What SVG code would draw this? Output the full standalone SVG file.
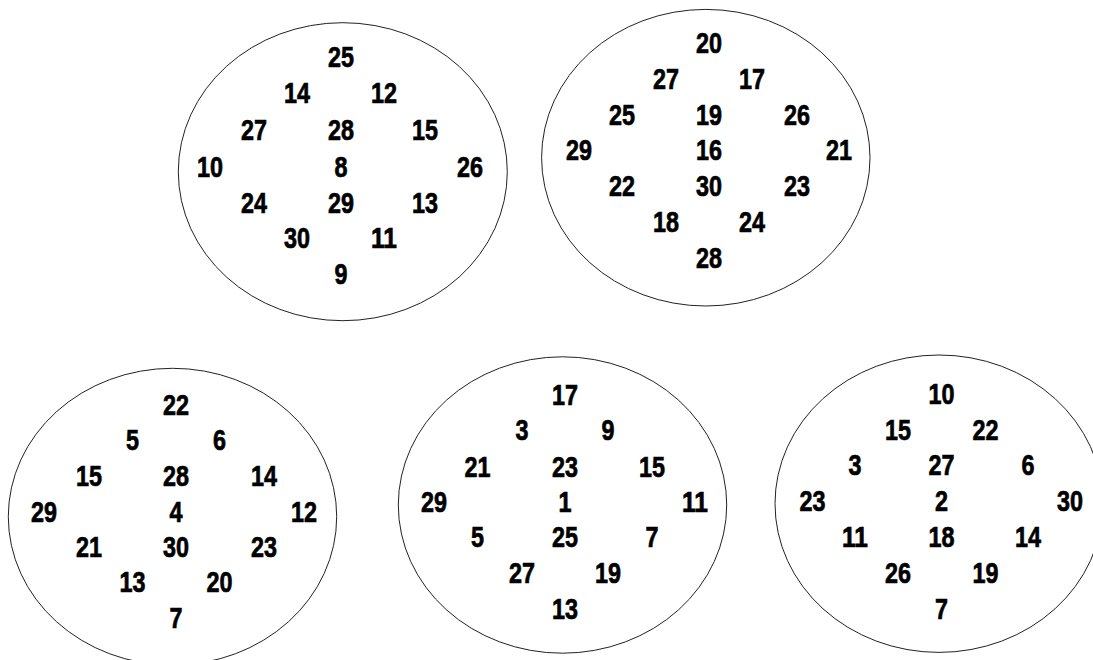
<svg xmlns="http://www.w3.org/2000/svg" width="1093" height="660" viewBox="0 0 1093 660">
<style>
.shell{fill:#fff;stroke:#222;stroke-width:1}
.pin{font-family:"Liberation Sans","Arial",sans-serif;font-weight:bold;font-size:30px;text-anchor:middle;fill:#000;stroke:#000;stroke-width:0.7}
</style>
<rect width="1093" height="660" fill="#fff"/>
<g id="connector-1">
<ellipse class="shell" cx="342.8" cy="171.7" rx="164.5" ry="149"/>
<text class="pin" x="341" y="67" textLength="26" lengthAdjust="spacingAndGlyphs">25</text>
<text class="pin" x="297" y="103" textLength="26" lengthAdjust="spacingAndGlyphs">14</text>
<text class="pin" x="384" y="103" textLength="26" lengthAdjust="spacingAndGlyphs">12</text>
<text class="pin" x="254" y="140" textLength="26" lengthAdjust="spacingAndGlyphs">27</text>
<text class="pin" x="341" y="140" textLength="26" lengthAdjust="spacingAndGlyphs">28</text>
<text class="pin" x="425" y="140" textLength="26" lengthAdjust="spacingAndGlyphs">15</text>
<text class="pin" x="210" y="177" textLength="26" lengthAdjust="spacingAndGlyphs">10</text>
<text class="pin" x="341" y="177" textLength="13" lengthAdjust="spacingAndGlyphs">8</text>
<text class="pin" x="470" y="177" textLength="26" lengthAdjust="spacingAndGlyphs">26</text>
<text class="pin" x="254" y="213" textLength="26" lengthAdjust="spacingAndGlyphs">24</text>
<text class="pin" x="341" y="213" textLength="26" lengthAdjust="spacingAndGlyphs">29</text>
<text class="pin" x="425" y="213" textLength="26" lengthAdjust="spacingAndGlyphs">13</text>
<text class="pin" x="297" y="248" textLength="26" lengthAdjust="spacingAndGlyphs">30</text>
<text class="pin" x="384" y="248" textLength="26" lengthAdjust="spacingAndGlyphs">11</text>
<text class="pin" x="341" y="284" textLength="13" lengthAdjust="spacingAndGlyphs">9</text>
</g>
<g id="connector-2">
<ellipse class="shell" cx="705.8" cy="157.7" rx="164.2" ry="148.3"/>
<text class="pin" x="709" y="53" textLength="26" lengthAdjust="spacingAndGlyphs">20</text>
<text class="pin" x="666" y="89" textLength="26" lengthAdjust="spacingAndGlyphs">27</text>
<text class="pin" x="752" y="89" textLength="26" lengthAdjust="spacingAndGlyphs">17</text>
<text class="pin" x="622" y="125" textLength="26" lengthAdjust="spacingAndGlyphs">25</text>
<text class="pin" x="709" y="125" textLength="26" lengthAdjust="spacingAndGlyphs">19</text>
<text class="pin" x="797" y="125" textLength="26" lengthAdjust="spacingAndGlyphs">26</text>
<text class="pin" x="579" y="160" textLength="26" lengthAdjust="spacingAndGlyphs">29</text>
<text class="pin" x="709" y="160" textLength="26" lengthAdjust="spacingAndGlyphs">16</text>
<text class="pin" x="839" y="160" textLength="26" lengthAdjust="spacingAndGlyphs">21</text>
<text class="pin" x="622" y="196" textLength="26" lengthAdjust="spacingAndGlyphs">22</text>
<text class="pin" x="709" y="196" textLength="26" lengthAdjust="spacingAndGlyphs">30</text>
<text class="pin" x="797" y="196" textLength="26" lengthAdjust="spacingAndGlyphs">23</text>
<text class="pin" x="666" y="232" textLength="26" lengthAdjust="spacingAndGlyphs">18</text>
<text class="pin" x="752" y="232" textLength="26" lengthAdjust="spacingAndGlyphs">24</text>
<text class="pin" x="709" y="268" textLength="26" lengthAdjust="spacingAndGlyphs">28</text>
</g>
<g id="connector-3">
<ellipse class="shell" cx="172.5" cy="516.7" rx="164.2" ry="148.4"/>
<text class="pin" x="176" y="415" textLength="26" lengthAdjust="spacingAndGlyphs">22</text>
<text class="pin" x="132.5" y="450" textLength="13" lengthAdjust="spacingAndGlyphs">5</text>
<text class="pin" x="219.5" y="450" textLength="13" lengthAdjust="spacingAndGlyphs">6</text>
<text class="pin" x="89" y="486" textLength="26" lengthAdjust="spacingAndGlyphs">15</text>
<text class="pin" x="176" y="486" textLength="26" lengthAdjust="spacingAndGlyphs">28</text>
<text class="pin" x="264" y="486" textLength="26" lengthAdjust="spacingAndGlyphs">14</text>
<text class="pin" x="44" y="522" textLength="26" lengthAdjust="spacingAndGlyphs">29</text>
<text class="pin" x="176" y="522" textLength="13" lengthAdjust="spacingAndGlyphs">4</text>
<text class="pin" x="304" y="522" textLength="26" lengthAdjust="spacingAndGlyphs">12</text>
<text class="pin" x="89" y="557" textLength="26" lengthAdjust="spacingAndGlyphs">21</text>
<text class="pin" x="176" y="557" textLength="26" lengthAdjust="spacingAndGlyphs">30</text>
<text class="pin" x="264" y="557" textLength="26" lengthAdjust="spacingAndGlyphs">23</text>
<text class="pin" x="132.5" y="592" textLength="26" lengthAdjust="spacingAndGlyphs">13</text>
<text class="pin" x="219.5" y="592" textLength="26" lengthAdjust="spacingAndGlyphs">20</text>
<text class="pin" x="176" y="628" textLength="13" lengthAdjust="spacingAndGlyphs">7</text>
</g>
<g id="connector-4">
<ellipse class="shell" cx="562.5" cy="505" rx="164.2" ry="148.2"/>
<text class="pin" x="565" y="405" textLength="26" lengthAdjust="spacingAndGlyphs">17</text>
<text class="pin" x="522" y="440" textLength="13" lengthAdjust="spacingAndGlyphs">3</text>
<text class="pin" x="608" y="440" textLength="13" lengthAdjust="spacingAndGlyphs">9</text>
<text class="pin" x="477.5" y="477" textLength="26" lengthAdjust="spacingAndGlyphs">21</text>
<text class="pin" x="565" y="477" textLength="26" lengthAdjust="spacingAndGlyphs">23</text>
<text class="pin" x="652" y="477" textLength="26" lengthAdjust="spacingAndGlyphs">15</text>
<text class="pin" x="434" y="512" textLength="26" lengthAdjust="spacingAndGlyphs">29</text>
<text class="pin" x="565" y="512" textLength="13" lengthAdjust="spacingAndGlyphs">1</text>
<text class="pin" x="695" y="512" textLength="26" lengthAdjust="spacingAndGlyphs">11</text>
<text class="pin" x="477.5" y="547" textLength="13" lengthAdjust="spacingAndGlyphs">5</text>
<text class="pin" x="565" y="547" textLength="26" lengthAdjust="spacingAndGlyphs">25</text>
<text class="pin" x="652" y="547" textLength="13" lengthAdjust="spacingAndGlyphs">7</text>
<text class="pin" x="522" y="583" textLength="26" lengthAdjust="spacingAndGlyphs">27</text>
<text class="pin" x="608" y="583" textLength="26" lengthAdjust="spacingAndGlyphs">19</text>
<text class="pin" x="565" y="619" textLength="26" lengthAdjust="spacingAndGlyphs">13</text>
</g>
<g id="connector-5">
<ellipse class="shell" cx="939" cy="503.7" rx="164" ry="148.7"/>
<text class="pin" x="941.5" y="404" textLength="26" lengthAdjust="spacingAndGlyphs">10</text>
<text class="pin" x="898" y="440" textLength="26" lengthAdjust="spacingAndGlyphs">15</text>
<text class="pin" x="985.5" y="440" textLength="26" lengthAdjust="spacingAndGlyphs">22</text>
<text class="pin" x="855" y="475" textLength="13" lengthAdjust="spacingAndGlyphs">3</text>
<text class="pin" x="941.5" y="475" textLength="26" lengthAdjust="spacingAndGlyphs">27</text>
<text class="pin" x="1028" y="475" textLength="13" lengthAdjust="spacingAndGlyphs">6</text>
<text class="pin" x="812.5" y="511" textLength="26" lengthAdjust="spacingAndGlyphs">23</text>
<text class="pin" x="941.5" y="511" textLength="13" lengthAdjust="spacingAndGlyphs">2</text>
<text class="pin" x="1070" y="511" textLength="26" lengthAdjust="spacingAndGlyphs">30</text>
<text class="pin" x="855" y="547" textLength="26" lengthAdjust="spacingAndGlyphs">11</text>
<text class="pin" x="941.5" y="547" textLength="26" lengthAdjust="spacingAndGlyphs">18</text>
<text class="pin" x="1028" y="547" textLength="26" lengthAdjust="spacingAndGlyphs">14</text>
<text class="pin" x="898" y="583" textLength="26" lengthAdjust="spacingAndGlyphs">26</text>
<text class="pin" x="985.5" y="583" textLength="26" lengthAdjust="spacingAndGlyphs">19</text>
<text class="pin" x="941.5" y="619" textLength="13" lengthAdjust="spacingAndGlyphs">7</text>
</g>
<g id="connectors"></g>
</svg>
